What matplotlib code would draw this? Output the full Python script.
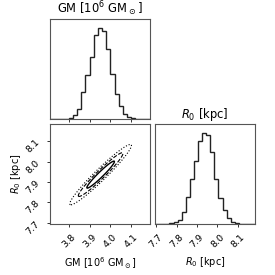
import numpy as np
import matplotlib
matplotlib.use("Agg")
import matplotlib.pyplot as plt

# marginal histograms (bin width 0.02), heights
gm_edges = np.round(np.arange(3.70, 4.2001, 0.02), 3)
gm_counts = [0, 0, 0, 0, 0.3, 1.2, 3.5, 10, 27, 44, 62, 84, 90.5, 88, 70,
             44.5, 24.5, 13, 5, 2, 0.5, 0, 0, 0, 0]
r0_edges = np.round(np.arange(7.685, 8.2051, 0.02), 3)
r0_counts = [0, 0, 0, 0, 0.5, 1.5, 4.3, 11.3, 26.7, 44, 61.3, 81.3, 89, 87.3,
             70.7, 44, 25.7, 14, 5.7, 1.7, 0.5, 0, 0, 0, 0, 0]

# 2d posterior summary used for the contours
gm_mean, r0_mean = 3.953, 7.936
gm_sigma, r0_sigma = 0.051, 0.051
rho = 0.965
contour_levels = [1.3, 2.1, 2.9]   # in units of sigma
contour_styles = ['-', '--', ':']
contour_widths = [1.0, 0.8, 0.8]

gm_lim = (3.71, 4.19)
r0_lim = (7.694, 8.184)
gm_ticks = [3.8, 3.9, 4.0, 4.1]
r0_ticks = [7.7, 7.8, 7.9, 8.0, 8.1]
gm_label = r'GM [10$^6$ GM$_\odot$]'
r0_label = r'$R_0$ [kpc]'

fig = plt.figure(figsize=(2.75, 2.75), dpi=100)
w = 100 / 275
ax_gm = fig.add_axes([50 / 275, 1 - 119 / 275, w, w])
ax_2d = fig.add_axes([50 / 275, 1 - 224 / 275, w, w])
ax_r0 = fig.add_axes([155 / 275, 1 - 224 / 275, w, w])

for ax in (ax_gm, ax_2d, ax_r0):
    for s in ax.spines.values():
        s.set_linewidth(0.8)
        s.set_color('#555555')
    ax.tick_params(length=2.5, width=0.7, labelsize=6.8, color='#333333')

# GM histogram
ax_gm.stairs(gm_counts, gm_edges, color='#222222', lw=1.0)
ax_gm.set_xlim(gm_lim)
ax_gm.set_ylim(0, 1.1 * max(gm_counts))
ax_gm.set_xticks(gm_ticks)
ax_gm.set_xticklabels([])
ax_gm.set_yticks([])
ax_gm.set_title(gm_label, fontsize=8.3, pad=4)

# R0 histogram
ax_r0.stairs(r0_counts, r0_edges, color='#222222', lw=1.0)
ax_r0.set_xlim(r0_lim)
ax_r0.set_ylim(0, 1.1 * max(r0_counts))
ax_r0.set_xticks(r0_ticks)
ax_r0.set_xticklabels([f'{t:.1f}' for t in r0_ticks], rotation=45)
ax_r0.set_yticks([])
ax_r0.set_title(r0_label, fontsize=8.3, pad=4)
ax_r0.set_xlabel(r0_label, fontsize=7)

# joint contours
gx = np.linspace(gm_lim[0], gm_lim[1], 300)
gy = np.linspace(r0_lim[0], r0_lim[1], 300)
X, Y = np.meshgrid(gx, gy)
u = (X - gm_mean) / gm_sigma
v = (Y - r0_mean) / r0_sigma
D = np.sqrt((u**2 - 2 * rho * u * v + v**2) / (1 - rho**2))
ax_2d.contour(X, Y, D, levels=contour_levels, colors='k',
              linestyles=contour_styles, linewidths=contour_widths)
ax_2d.set_xlim(gm_lim)
ax_2d.set_ylim(r0_lim)
ax_2d.set_xticks(gm_ticks)
ax_2d.set_xticklabels([f'{t:.1f}' for t in gm_ticks], rotation=45)
ax_2d.set_yticks(r0_ticks)
ax_2d.set_yticklabels([f'{t:.1f}' for t in r0_ticks], rotation=45)
ax_2d.set_xlabel(gm_label, fontsize=7)
ax_2d.set_ylabel(r0_label, fontsize=7, labelpad=1)

fig.savefig('out.png', dpi=100)
